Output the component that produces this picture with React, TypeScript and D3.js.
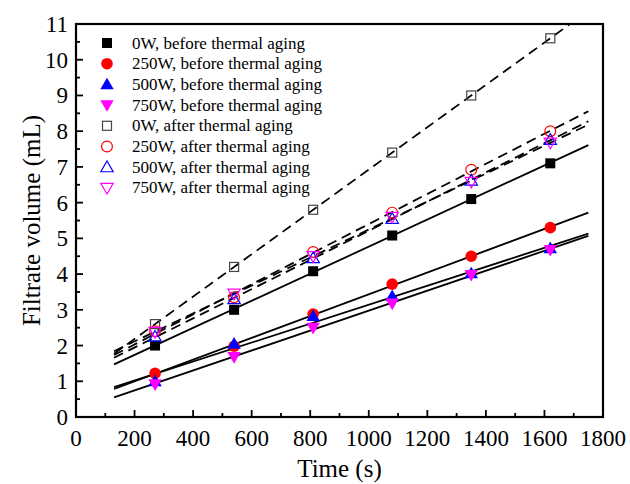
import React from "react";
import * as d3 from "d3";

const times = [270, 540, 810, 1080, 1350, 1620];
const seriesNames = [
  "0W, before thermal aging",
  "250W, before thermal aging",
  "500W, before thermal aging",
  "750W, before thermal aging",
  "0W, after thermal aging",
  "250W, after thermal aging",
  "500W, after thermal aging",
  "750W, after thermal aging",
];
const before0 = [2.0, 3.0, 4.08, 5.08, 6.1, 7.1];
const before250 = [1.22, 1.98, 2.88, 3.72, 4.5, 5.3];
const before500 = [1.0, 2.05, 2.82, 3.38, 4.02, 4.72];
const before750 = [0.92, 1.68, 2.5, 3.18, 3.98, 4.68];
const after0 = [2.6, 4.2, 5.8, 7.4, 9.0, 10.6];
const after250 = [2.4, 3.35, 4.62, 5.72, 6.92, 8.0];
const after500 = [2.25, 3.3, 4.45, 5.55, 6.62, 7.76];
const after750 = [2.38, 3.45, 4.5, 5.6, 6.58, 7.68];
const xTicks = [0, 200, 400, 600, 800, 1000, 1200, 1400, 1600, 1800];
const yTicks = [0, 1, 2, 3, 4, 5, 6, 7, 8, 9, 10, 11];
const fitRange = [130, 1750];

const allSeries = [before0, before250, before500, before750, after0, after250, after500, after750];
const colors = ["#000000", "#ff0000", "#0000ff", "#ff00ff", "#444444", "#ff0000", "#0000ff", "#ff00ff"];
const shapes = ["square", "circle", "up", "down", "square", "circle", "up", "down"];
const filled = [true, true, true, true, false, false, false, false];

const W = 630, H = 484;
const L = 76, R = 603, T = 24, B = 417;
const FONT = "Liberation Serif, Times New Roman, serif";
const ts = { fontFamily: FONT };

function fit(ys: number[]) {
  const mx = d3.mean(times)!;
  const my = d3.mean(ys)!;
  let num = 0, den = 0;
  times.forEach((t, i) => { num += (t - mx) * (ys[i] - my); den += (t - mx) ** 2; });
  const b = num / den;
  return { a: my - b * mx, b };
}

function Marker({ shape, x, y, color, fill }: any) {
  const sw = fill ? 0 : 1.2;
  const f = fill ? color : "none";
  const st = fill ? "none" : color;
  if (shape === "square") {
    const s = fill ? 10 : 9;
    return <rect x={x - s / 2} y={y - s / 2} width={s} height={s} fill={f} stroke={st} strokeWidth={sw} />;
  }
  if (shape === "circle") {
    return <circle cx={x} cy={y} r={fill ? 5.8 : 5.4} fill={f} stroke={st} strokeWidth={sw} />;
  }
  const sym = d3.symbol().type(d3.symbolTriangle).size(fill ? 78 : 66)();
  const rot = shape === "down" ? 180 : 0;
  const dy = shape === "down" ? -1 : 1;
  return <path d={sym!} transform={`translate(${x},${y + dy}) rotate(${rot})`} fill={f} stroke={st} strokeWidth={sw} />;
}

export default function App() {
  const x = d3.scaleLinear().domain([0, 1800]).range([L, R]);
  const y = d3.scaleLinear().domain([0, 11]).range([B, T]);
  const line = d3.line<[number, number]>().x((d) => x(d[0])).y((d) => y(d[1]));
  const xMinor = d3.range(100, 1800, 200);
  const yMinor = d3.range(0.5, 11, 1);

  return (
    <svg width={W} height={H} style={{ position: "absolute", left: 0, top: 0, background: "#fff" }}>
      <defs>
        <clipPath id="plot">
          <rect x={L} y={T} width={R - L} height={B - T} />
        </clipPath>
      </defs>
      <g clipPath="url(#plot)">
        {allSeries.map((ys, i) => {
          const { a, b } = fit(ys);
          const pts: [number, number][] = fitRange.map((t) => [t, a + b * t]);
          return (
            <path key={i} d={line(pts)!} fill="none" stroke="#000" strokeWidth={1.8}
              strokeDasharray={i >= 4 ? "10,6" : undefined} />
          );
        })}
      </g>
      {allSeries.map((ys, i) => (
        <g key={i}>
          {ys.map((v, j) => (
            <Marker key={j} shape={shapes[i]} x={x(times[j])} y={y(v)} color={colors[i]} fill={filled[i]} />
          ))}
        </g>
      ))}
      {xTicks.map((t) => (
        <line key={"xt" + t} x1={x(t)} x2={x(t)} y1={B} y2={B - 7} stroke="#000" strokeWidth={1.8} />
      ))}
      {xMinor.map((t) => (
        <line key={"xm" + t} x1={x(t)} x2={x(t)} y1={B} y2={B - 4} stroke="#000" strokeWidth={1.8} />
      ))}
      {yTicks.map((t) => (
        <line key={"yt" + t} x1={L} x2={L + 7} y1={y(t)} y2={y(t)} stroke="#000" strokeWidth={1.8} />
      ))}
      {yMinor.map((t) => (
        <line key={"ym" + t} x1={L} x2={L + 4} y1={y(t)} y2={y(t)} stroke="#000" strokeWidth={1.8} />
      ))}
      <rect x={L} y={T} width={R - L} height={B - T} fill="none" stroke="#000" strokeWidth={2.2} />
      {xTicks.map((t) => (
        <text key={"xl" + t} x={x(t)} y={B + 29} textAnchor="middle" fontSize={23} style={ts}>{t}</text>
      ))}
      {yTicks.map((t) => (
        <text key={"yl" + t} x={L - 8} y={y(t) + 8} textAnchor="end" fontSize={23} style={ts}>{t}</text>
      ))}
      <text x={(L + R) / 2} y={477} textAnchor="middle" fontSize={25} style={ts}>Time (s)</text>
      <text transform={`translate(40,${(T + B) / 2}) rotate(-90)`} textAnchor="middle" fontSize={25} style={ts}>Filtrate volume (mL)</text>
      {seriesNames.map((n, i) => {
        const ly = 43 + i * 20.7;
        return (
          <g key={"lg" + i}>
            <Marker shape={shapes[i]} x={107} y={ly} color={colors[i]} fill={filled[i]} />
            <text x={132} y={ly + 5.5} fontSize={17} style={ts}>{n}</text>
          </g>
        );
      })}
    </svg>
  );
}
